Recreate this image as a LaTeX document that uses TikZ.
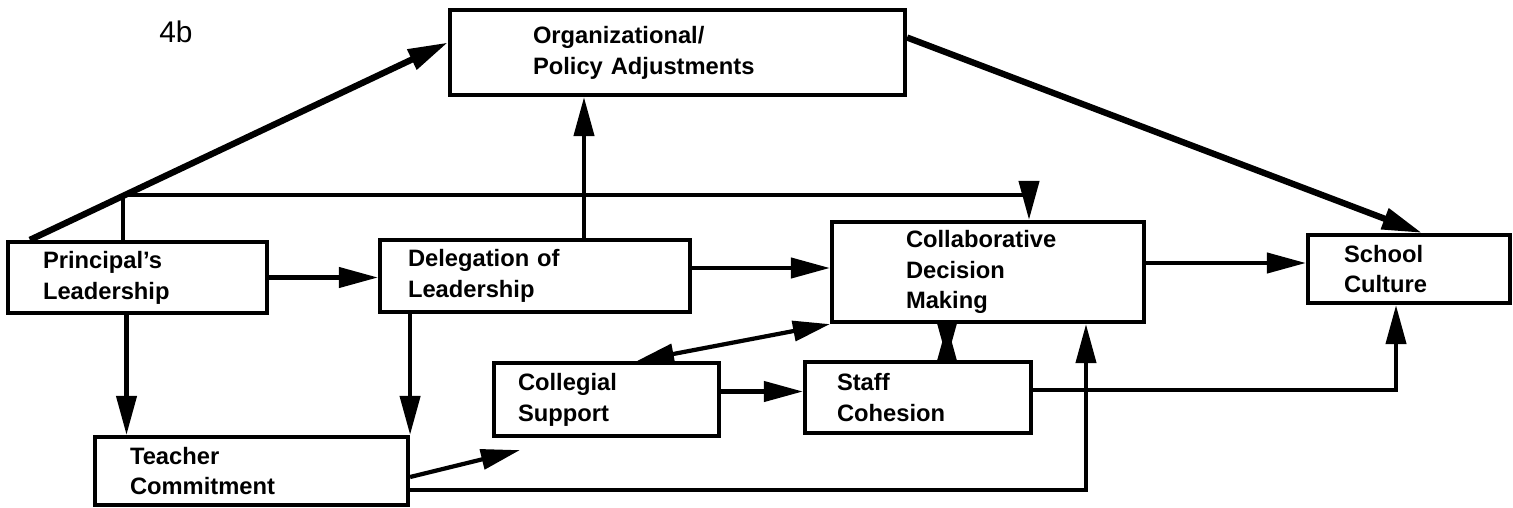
\documentclass[tikz,border=0pt]{standalone}
\usepackage{fontspec}
\setmainfont{Liberation Sans}
\usetikzlibrary{arrows.meta}
\tikzset{
    box/.style={draw, line width=2.4pt, inner ysep=0pt, align=left, font=\bfseries\fontsize{13.5}{17.5}\selectfont},
    plain/.style={line width=2.4pt},
    link/.style={line width=2.4pt, -{Triangle[length=0.78cm,width=0.4cm]}},
    both/.style={line width=2.4pt, {Triangle[length=0.74cm,width=0.4cm]}-{Triangle[length=0.74cm,width=0.4cm]}},
    heavy/.style={line width=3.6pt, -{Triangle[length=0.8cm,width=0.42cm]}}
}
\begin{document}
\begin{tikzpicture}[x=0.02cm,y=-0.02cm]
    \useasboundingbox (0,0) rectangle (1513,507);
    \node[font=\fontsize{17}{20}\selectfont] (fig) at (176,32) {4b};
    \node[box, minimum width=9.1cm, minimum height=1.7cm, text width=5.78cm, inner xsep=1.66cm] (org) at (677.5,52.5) {Organizational/\\Policy Adjustments};
    \node[box, minimum width=5.18cm, minimum height=1.42cm, text width=3.78cm, inner xsep=0.7cm] (principal) at (137.5,277.5) {Principal's\\Leadership};
    \node[box, minimum width=6.2cm, minimum height=1.44cm, text width=5.08cm, inner xsep=0.56cm] (delegation) at (535,276) {Delegation of\\Leadership};
    \node[box, minimum width=6.24cm, minimum height=2cm, text width=3.28cm, inner xsep=1.48cm] (collab) at (988,272) {Collaborative\\Decision\\Making};
    \node[box, minimum width=4.04cm, minimum height=1.36cm, text width=2.6cm, inner xsep=0.72cm] (school) at (1409,269) {School\\Culture};
    \node[box, minimum width=4.5cm, minimum height=1.46cm, text width=3.54cm, inner xsep=0.48cm] (collegial) at (606.5,399.5) {Collegial\\Support};
    \node[box, minimum width=4.52cm, minimum height=1.42cm, text width=3.24cm, inner xsep=0.64cm] (staff) at (918,397.5) {Staff\\Cohesion};
    \node[box, minimum width=6.26cm, minimum height=1.36cm, text width=4.86cm, inner xsep=0.7cm] (teacher) at (251.5,471) {Teacher\\Commitment};

    \coordinate (pl-up) at ([xshift=-0.29cm]principal.north);
    \coordinate (fork) at ([yshift=0.9cm]pl-up);
    \coordinate (pl-down) at ([xshift=-0.22cm]principal.south);
    \coordinate (dl-up) at ([xshift=0.98cm]delegation.north);
    \coordinate (dl-out) at ([yshift=0.16cm]delegation.east);
    \coordinate (sc-in) at ([yshift=0.12cm]school.west);
    \coordinate (tc-out) at ([yshift=-0.12cm]teacher.east);
    \coordinate (tc-low) at ([yshift=-0.38cm]teacher.east);
    \coordinate (cs-tip) at ([xshift=0.56cm,yshift=-0.24cm]collegial.south west);
    \coordinate (cg-out) at ([yshift=0.16cm]collegial.east);
    \coordinate (sf-up) at ([xshift=0.58cm]staff.north);

    \draw[heavy] ([xshift=0.48cm]principal.north west) -- ([yshift=0.2cm]org.west);
    \draw[heavy] ([yshift=0.3cm]org.east) -- ([xshift=0.26cm]school.north);
    \draw[plain] (pl-up) -- (fork);
    \draw[link] (fork) -| ([xshift=0.82cm]collab.north);
    \draw[link] (principal.east) -- (principal.east -| delegation.west);
    \draw[link] (dl-out) -- (dl-out -| collab.west);
    \draw[link] (sc-in -| collab.east) -- (sc-in);
    \draw[link] (dl-up) -- (dl-up |- org.south);
    \draw[link] (pl-down) -- (pl-down |- teacher.north);
    \draw[link] (delegation.south -| teacher.north east) -- (teacher.north east);
    \draw[link] (tc-out) -- (cs-tip);
    \draw[link] (tc-low) -| ([xshift=1.96cm]collab.south);
    \draw[both] ([xshift=0.61cm]collegial.north) -- (collab.south west);
    \draw[link] (cg-out) -- (cg-out -| staff.west);
    \draw[link] (sf-up) -- (sf-up |- collab.south);
    \draw[link] (sf-up |- collab.south) -- (sf-up);
    \draw[link] ([yshift=0.15cm]staff.east) -| ([xshift=-0.26cm]school.south);
\end{tikzpicture}
\end{document}
